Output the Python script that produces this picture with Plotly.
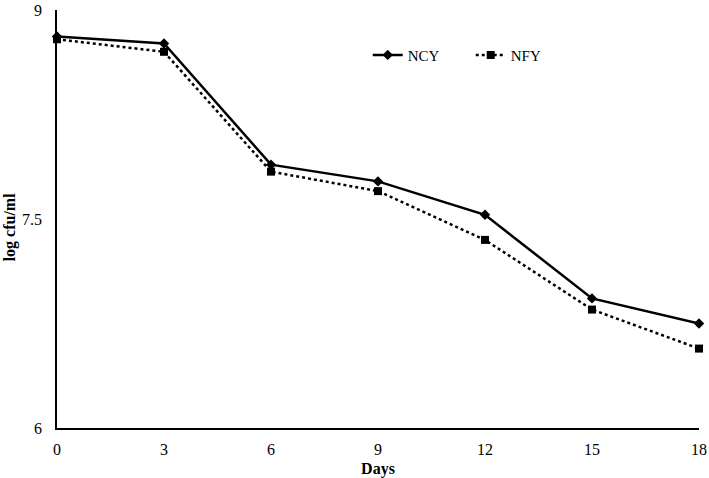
import plotly.graph_objects as go

days = [0, 3, 6, 9, 12, 15, 18]
ncy = [8.81, 8.76, 7.89, 7.77, 7.53, 6.93, 6.75]
nfy = [8.79, 8.70, 7.84, 7.70, 7.35, 6.85, 6.57]
x_ticks = [0, 3, 6, 9, 12, 15, 18]
y_ticks = [6, 7.5, 9]
y_tick_labels = ["6", "7.5", "9"]

font_family = "Liberation Serif, Times New Roman, serif"

fig = go.Figure()
fig.add_trace(go.Scatter(
    x=days, y=ncy, name="NCY", mode="lines+markers",
    line=dict(color="black", width=2.5, dash="solid"),
    marker=dict(symbol="diamond", size=8, color="black"),
    cliponaxis=False,
))
fig.add_trace(go.Scatter(
    x=days, y=nfy, name="NFY", mode="lines+markers",
    line=dict(color="black", width=2.5, dash="dot"),
    marker=dict(symbol="square", size=8, color="black"),
    cliponaxis=False,
))

fig.update_layout(
    width=709, height=478,
    margin=dict(l=57, r=10, t=10, b=50, autoexpand=False),
    paper_bgcolor="white", plot_bgcolor="white",
    font=dict(family=font_family, size=16, color="black"),
    showlegend=True,
    legend=dict(
        orientation="h", x=0.484, y=0.892, xanchor="left", yanchor="middle",
        font=dict(size=15), bgcolor="rgba(0,0,0,0)",
        entrywidth=58,
    ),
    xaxis=dict(
        range=[0, 18], tickvals=x_ticks, showgrid=False, zeroline=False,
        showline=True, linecolor="black", linewidth=2, ticks="",
        ticklabelstandoff=6, automargin=False,
        title=dict(text="<b>Days</b>", standoff=10, font=dict(size=16)),
    ),
    yaxis=dict(
        range=[6, 9], tickvals=y_ticks, ticktext=y_tick_labels,
        showgrid=False, zeroline=False,
        showline=True, linecolor="black", linewidth=1.5, ticks="",
        ticklabelstandoff=10, automargin=False,
    ),
    annotations=[dict(
        text="<b>log cfu/ml</b>", xref="paper", yref="paper",
        x=-(57 - 10) / 642, y=0.48, xanchor="center", yanchor="middle",
        textangle=-90, showarrow=False, font=dict(size=16),
    )],
)

fig.write_html(
    "out.html",
    config={"displayModeBar": False},
    post_script="document.body.style.margin='0';document.body.style.overflow='hidden';",
)
